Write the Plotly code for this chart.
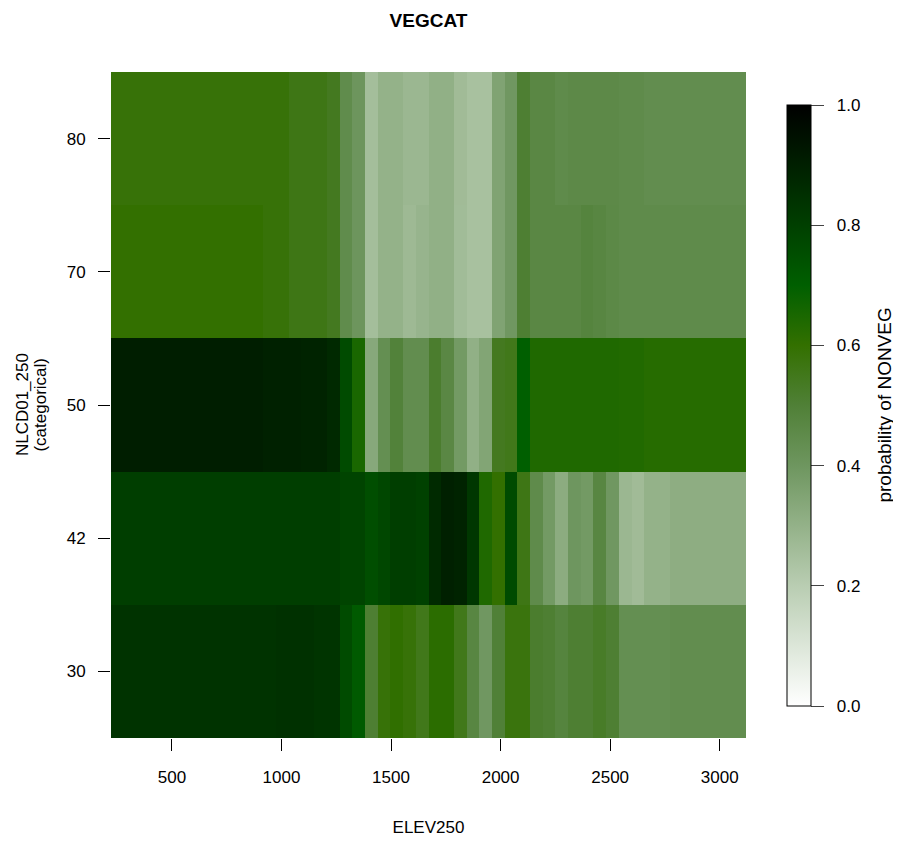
import plotly.graph_objects as go

# ELEV250 grid (cell centres) and NLCD01_250 classes
elev = [251, 309, 367, 425, 483, 541, 599, 657, 715, 773,
        830, 888, 946, 1004, 1062, 1120, 1178, 1236, 1294, 1352,
        1410, 1468, 1526, 1584, 1642, 1700, 1758, 1816, 1874, 1932,
        1989, 2047, 2105, 2163, 2221, 2279, 2337, 2395, 2453, 2511,
        2569, 2627, 2685, 2743, 2801, 2859, 2917, 2975, 3033, 3091]
nlcd = ["30", "42", "50", "70", "80"]

# probability of NONVEG, one list per class
p30 = [0.84] * 13 + [0.845] * 3 + [0.835] * 2 + [
    0.763, 0.715, 0.507, 0.586, 0.605, 0.586, 0.552, 0.615, 0.615, 0.552,
    0.473, 0.395, 0.5, 0.576, 0.576, 0.517, 0.507, 0.483, 0.507, 0.507,
    0.528, 0.507] + [0.433] * 4 + [0.44] * 6
p42 = [0.805] * 18 + [
    0.785, 0.785, 0.755, 0.775, 0.805, 0.805, 0.795, 0.867, 0.9, 0.89,
    0.825, 0.64, 0.6, 0.763, 0.562, 0.45, 0.387, 0.32, 0.4, 0.387,
    0.473, 0.395, 0.28, 0.265, 0.299, 0.299] + [0.315] * 6
p50 = [0.905] * 12 + [0.895] * 3 + [0.89] * 2 + [
    0.87, 0.763, 0.65, 0.333, 0.433, 0.493, 0.44, 0.44, 0.517, 0.467,
    0.387, 0.307, 0.347, 0.541, 0.552, 0.7] + [0.64] * 7 + [0.635] * 2 + [0.625] * 8
p70 = [0.6] * 12 + [0.586] * 2 + [0.562] * 3 + [
    0.541, 0.447, 0.405, 0.255, 0.299, 0.299, 0.272, 0.29, 0.307, 0.307,
    0.263, 0.245, 0.245, 0.352, 0.395, 0.507, 0.467, 0.467, 0.467, 0.467,
    0.483, 0.473, 0.46] + [0.45] * 10
p80 = [0.586] * 14 + [0.562] * 3 + [
    0.541, 0.447, 0.405, 0.255, 0.299, 0.299, 0.28, 0.28, 0.307, 0.307,
    0.265, 0.245, 0.245, 0.352, 0.395, 0.507, 0.467, 0.467, 0.45, 0.457,
    0.457, 0.457, 0.457, 0.45, 0.45] + [0.44] * 8

cbar_ticks = [0, 0.2, 0.4, 0.6, 0.8, 1.0]

colorscale = [
    [0.0, "rgb(255,255,255)"],
    [0.2, "rgb(185,205,178)"],
    [0.4, "rgb(110,150,95)"],
    [0.5, "rgb(80,128,55)"],
    [0.6, "rgb(51,112,0)"],
    [0.7, "rgb(0,95,0)"],
    [1.0, "rgb(0,0,0)"],
]

font = "Liberation Sans, Arial, sans-serif"
fs = 17

fig = go.Figure()
fig.add_trace(go.Heatmap(
    x=elev,
    y=nlcd,
    z=[p30, p42, p50, p70, p80],
    zmin=0, zmax=1,
    colorscale=colorscale,
    colorbar=dict(
        x=1.0646, xanchor="left", xpad=0,
        y=0.4992, yanchor="middle", ypad=0,
        len=0.9024, thickness=24,
        outlinecolor="black", outlinewidth=1,
        ticks="outside", ticklen=13, tickcolor="#444",
        tickvals=cbar_ticks,
        ticktext=["\u00a0\u00a0" + f"{v:.1f}" for v in cbar_ticks],
        tickfont=dict(size=fs, family=font, color="black"),
    ),
    hoverinfo="x+y+z",
))

# two-line y axis label, R style
fig.add_annotation(text="NLCD01_250", xref="paper", yref="paper",
                   x=-0.1400, y=0.5, textangle=-90, showarrow=False,
                   xanchor="center", yanchor="middle",
                   font=dict(size=fs, family=font, color="black"))
fig.add_annotation(text="(categorical)", xref="paper", yref="paper",
                   x=-0.1125, y=0.5, textangle=-90, showarrow=False,
                   xanchor="center", yanchor="middle",
                   font=dict(size=fs, family=font, color="black"))

# colour bar legend label
fig.add_annotation(text="probability of NONVEG", xref="paper", yref="paper",
                   x=1.2189, y=0.4992, textangle=-90, showarrow=False,
                   xanchor="center", yanchor="middle",
                   font=dict(size=19, family=font, color="black"))

fig.update_layout(
    width=901, height=841,
    margin=dict(l=103, r=163, t=64, b=111),
    paper_bgcolor="white",
    plot_bgcolor="white",
    title=dict(text="<b>VEGCAT</b>", x=0.5, xanchor="center",
               xref="paper", y=0.9857, yanchor="middle",
               font=dict(size=19, family=font, color="black")),
    xaxis=dict(
        title=dict(text="ELEV250", standoff=34,
                   font=dict(size=fs, family=font, color="black")),
        range=[222, 3120],
        tickvals=[500, 1000, 1500, 2000, 2500, 3000],
        ticks="outside", ticklen=12, tickcolor="black",
        ticklabelstandoff=12,
        tickfont=dict(size=fs, family=font, color="black"),
        showline=False, showgrid=False, zeroline=False,
    ),
    yaxis=dict(
        type="category",
        ticks="outside", ticklen=12, tickcolor="black",
        ticklabelstandoff=9,
        tickfont=dict(size=fs, family=font, color="black"),
        showline=False, showgrid=False, zeroline=False,
    ),
)

fig.write_html("out.html")
